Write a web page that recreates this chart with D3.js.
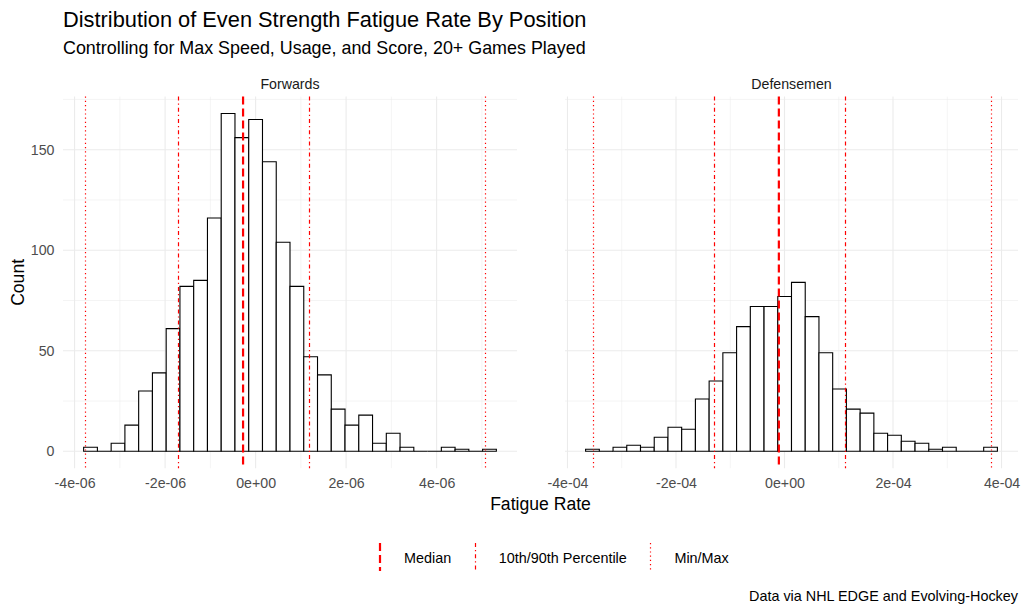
<!DOCTYPE html>
<html><head><meta charset="utf-8">
<script src="https://cdn.jsdelivr.net/npm/d3@7"></script>
<style>
body{margin:0;background:#fff}
text{font-family:"Liberation Sans",Arial,sans-serif}
</style>
</head><body>
<svg id="chart" width="1028" height="613"></svg>
<script>
// ---------------- DATA ----------------
const panelNames = ["Forwards", "Defensemen"];

const fwdBinStart = -3.80e-6;
const fwdBinWidth = 0.304e-6;
const fwdCounts = [2,0,4,13,30,39,61,82,85,116,168,156,165,144,104,82,47,38,21,13,18,4,9,2,0,0,2,1,0,1];
const fwdMedian = -0.277e-6;
const fwdPercentiles = [-1.722e-6, 1.176e-6];
const fwdMinMax = [-3.777e-6, 5.069e-6];
const fwdTicks = [-4e-6, -2e-6, 0, 2e-6, 4e-6];
const fwdTickLabels = ["-4e-06", "-2e-06", "0e+00", "2e-06", "4e-06"];

const defBinStart = -3.666e-4;
const defBinWidth = 0.253e-4;
const defCounts = [1,0,2,3,2,7,12,11,26,35,49,62,72,72,77,84,67,49,31,21,19,9,8,5,4,1,2,0,0,2];
const defMedian = -0.104e-4;
const defPercentiles = [-1.306e-4, 1.122e-4];
const defMinMax = [-3.531e-4, 3.807e-4];
const defTicks = [-4e-4, -2e-4, 0, 2e-4, 4e-4];
const defTickLabels = ["-4e-04", "-2e-04", "0e+00", "2e-04", "4e-04"];

const yTicks = [0, 50, 100, 150];
const yTickLabels = ["0", "50", "100", "150"];
const yMinorTicks = [25, 75, 125, 175];

const legendLabels = ["Median", "10th/90th Percentile", "Min/Max"];

const titleText = "Distribution of Even Strength Fatigue Rate By Position";
const subtitleText = "Controlling for Max Speed, Usage, and Score, 20+ Games Played";
const xTitle = "Fatigue Rate";
const yTitle = "Count";
const captionText = "Data via NHL EDGE and Evolving-Hockey";

// ---------------- LAYOUT ----------------
const svg = d3.select("#chart");
const panelTop = 96.6, panelBottom = 468.2;
const panelX = [[63, 517], [565, 1018]];
const grid = "#EBEBEB";
const axisCol = "#4D4D4D";
const red = "#FF0000";
const styles = {
  median: {w: 2.2, dash: "8,4", crisp: false},
  pct: {w: 1.2, dash: "4,3,1.2,3", crisp: true},
  mm: {w: 1.2, dash: "1.2,3", crisp: true}
};

const allCounts = fwdCounts.concat(defCounts);
const yMax = d3.max(allCounts);
const y = d3.scaleLinear()
  .domain([-0.05 * yMax, yMax * 1.05])
  .range([panelBottom, panelTop]);

const panelsData = [
  {name: panelNames[0], start: fwdBinStart, width: fwdBinWidth, counts: fwdCounts,
   median: fwdMedian, pct: fwdPercentiles, mm: fwdMinMax, ticks: fwdTicks, labels: fwdTickLabels},
  {name: panelNames[1], start: defBinStart, width: defBinWidth, counts: defCounts,
   median: defMedian, pct: defPercentiles, mm: defMinMax, ticks: defTicks, labels: defTickLabels}
];

panelsData.forEach((p, pi) => {
  const [px0, px1] = panelX[pi];
  const bins = p.counts.map((c, i) => ({x0: p.start + i * p.width, x1: p.start + (i + 1) * p.width, c}));
  const lo = d3.min([bins[0].x0, ...p.mm, ...p.pct, p.median]);
  const hi = d3.max([bins[bins.length - 1].x1, ...p.mm, ...p.pct, p.median]);
  const pad = (hi - lo) * 0.05;
  const x = d3.scaleLinear().domain([lo - pad, hi + pad]).range([px0, px1]);
  const g = svg.append("g");

  // minor gridlines
  const step = p.ticks[1] - p.ticks[0];
  const xMinor = d3.range(p.ticks[0] - step / 2, p.ticks[p.ticks.length - 1] + step, step)
    .filter(v => v >= x.domain()[0] && v <= x.domain()[1]);
  g.selectAll(".xminor").data(xMinor).join("line")
    .attr("x1", d => x(d)).attr("x2", d => x(d))
    .attr("y1", panelTop).attr("y2", panelBottom)
    .attr("stroke", grid).attr("stroke-width", 0.55);
  g.selectAll(".yminor").data(yMinorTicks.filter(v => v <= y.domain()[1])).join("line")
    .attr("x1", px0).attr("x2", px1)
    .attr("y1", d => y(d)).attr("y2", d => y(d))
    .attr("stroke", grid).attr("stroke-width", 0.55);
  // major gridlines
  g.selectAll(".xmajor").data(p.ticks).join("line")
    .attr("x1", d => x(d)).attr("x2", d => x(d))
    .attr("y1", panelTop).attr("y2", panelBottom)
    .attr("stroke", grid).attr("stroke-width", 1.1);
  g.selectAll(".ymajor").data(yTicks).join("line")
    .attr("x1", px0).attr("x2", px1)
    .attr("y1", d => y(d)).attr("y2", d => y(d))
    .attr("stroke", grid).attr("stroke-width", 1.1);

  // bars
  g.selectAll(".bar").data(bins).join("path")
    .attr("d", d => `M${x(d.x0)},${y(0)}V${y(d.c)}H${x(d.x1)}V${y(0)}Z`)
    .attr("fill", "#fff").attr("stroke", "#000").attr("stroke-width", 1.1);

  // reference lines
  const vline = (v, st) => {
    const xx = st.crisp ? Math.round(x(v)) + 0.5 : x(v);
    return g.append("line")
      .attr("x1", xx).attr("x2", xx).attr("y1", panelTop).attr("y2", panelBottom)
      .attr("stroke", red).attr("stroke-width", st.w).attr("stroke-dasharray", st.dash);
  };
  p.mm.forEach(v => vline(v, styles.mm));
  p.pct.forEach(v => vline(v, styles.pct));
  vline(p.median, styles.median);

  // x axis
  const ax = g.append("g").attr("transform", `translate(0,${panelBottom})`)
    .call(d3.axisBottom(x).tickValues(p.ticks).tickFormat((d, i) => p.labels[i]).tickSize(0).tickPadding(0));
  ax.select(".domain").remove();
  ax.selectAll("text").attr("y", 19.8).attr("dy", null)
    .attr("fill", axisCol).style("font-size", "14.2px").style("font-family", '"Liberation Sans",Arial,sans-serif');

  // strip
  svg.append("text").attr("x", (px0 + px1) / 2).attr("y", 89)
    .attr("text-anchor", "middle").attr("fill", "#1A1A1A").style("font-size", "14.2px").text(p.name);
});

// y axis (left only)
const ay = svg.append("g").attr("transform", `translate(${panelX[0][0]},0)`)
  .call(d3.axisLeft(y).tickValues(yTicks).tickFormat((d, i) => yTickLabels[i]).tickSize(0).tickPadding(8.5));
ay.select(".domain").remove();
ay.selectAll("text").attr("fill", axisCol).style("font-size", "14.2px")
  .style("font-family", '"Liberation Sans",Arial,sans-serif');

// titles
svg.append("text").attr("x", 63).attr("y", 27).style("font-size", "21.8px").attr("fill", "#000").text(titleText);
svg.append("text").attr("x", 63).attr("y", 53.5).style("font-size", "17.9px").attr("fill", "#000").text(subtitleText);
svg.append("text").attr("x", (panelX[0][0] + panelX[1][1]) / 2).attr("y", 509.5)
  .attr("text-anchor", "middle").style("font-size", "17.6px").attr("fill", "#000").text(xTitle);
svg.append("text").attr("transform", `translate(24,${(panelTop + panelBottom) / 2}) rotate(-90)`)
  .attr("text-anchor", "middle").style("font-size", "17.6px").attr("fill", "#000").text(yTitle);
svg.append("text").attr("x", 1018).attr("y", 601).attr("text-anchor", "end")
  .style("font-size", "14.4px").attr("fill", "#000").text(captionText);

// legend
const legendStyles = [styles.median, styles.pct, styles.mm];
let kx = 380;
legendLabels.forEach((lab, i) => {
  const st = legendStyles[i];
  const xx = st.crisp ? Math.round(kx) + 0.5 : kx;
  svg.append("line").attr("x1", xx).attr("x2", xx).attr("y1", 543).attr("y2", 571)
    .attr("stroke", red).attr("stroke-width", st.w).attr("stroke-dasharray", st.dash);
  const t = svg.append("text").attr("x", kx + 24).attr("y", 562.5)
    .style("font-size", "14.4px").attr("fill", "#000").text(lab);
  kx = kx + 24 + t.node().getComputedTextLength() + 23.6;
});
</script>
</body></html>
